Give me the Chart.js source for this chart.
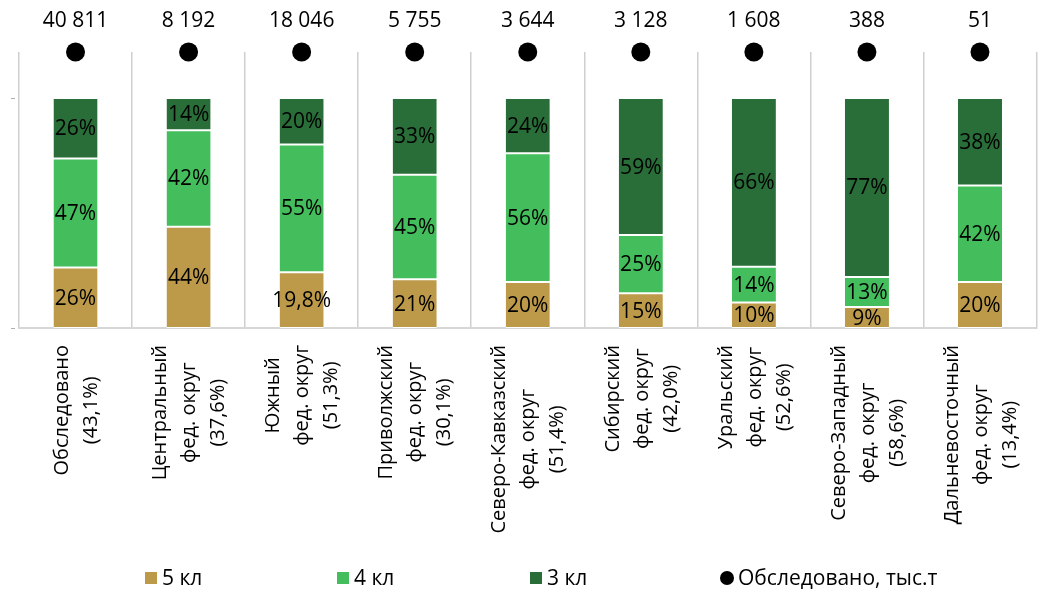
<!DOCTYPE html>
<html>
<head>
<meta charset="utf-8">
<script src="https://cdn.jsdelivr.net/npm/chart.js@4"></script>
<style>
  body { margin: 0; background: #fff; }
  #wrap { width: 1046px; height: 590px; }
</style>
</head>
<body>
<div id="wrap"><canvas id="js-gradeChart" width="1046" height="590"></canvas></div>
<script>
// regions (x categories), each label split into lines
var regions = [
  ['Обследовано', '(43,1%)'],
  ['Центральный', 'фед. округ', '(37,6%)'],
  ['Южный', 'фед. округ', '(51,3%)'],
  ['Приволжский', 'фед. округ', '(30,1%)'],
  ['Северо-Кавказский', 'фед. округ', '(51,4%)'],
  ['Сибирский', 'фед. округ', '(42,0%)'],
  ['Уральский', 'фед. округ', '(52,6%)'],
  ['Северо-Западный', 'фед. округ', '(58,6%)'],
  ['Дальневосточный', 'фед. округ', '(13,4%)']
];
// class shares, %
var grade5 = [26, 44, 24, 21, 20, 15, 10, 9, 20];
var grade4 = [47, 42, 55, 45, 56, 25, 14, 13, 42];
var grade3 = [26, 14, 20, 33, 24, 59, 66, 77, 38];
// printed labels (south district label differs from bar height in the source)
var grade5Text = ['26%', '44%', '19,8%', '21%', '20%', '15%', '10%', '9%', '20%'];
// surveyed, thousand tonnes
var surveyed = [40811, 8192, 18046, 5755, 3644, 3128, 1608, 388, 51];

var colors = { g5: '#bc9a4a', g4: '#44bd5c', g3: '#296e38' };
var FONT = '"Open Sans", "Noto Sans", sans-serif';
var TOP = 120; // y scale max, dots sit on it

document.addEventListener('DOMContentLoaded', function(){

  var totals = grade5.map(function(v, i){ return v + grade4[i] + grade3[i]; });
  function pct(arr){ return arr.map(function(v, i){ return v / totals[i] * 100; }); }
  function fmt(n){ return String(n).replace(/\B(?=(\d{3})+(?!\d))/g, ' '); }

  var segTexts = [
    grade5Text,
    grade4.map(function(v){ return v + '%'; }),
    grade3.map(function(v){ return v + '%'; })
  ];

  var overlay = {
    id: 'overlay',
    afterDatasetsDraw: function(chart){
      var ctx = chart.ctx;
      var xs = chart.scales.x, ys = chart.scales.y;
      ctx.save();
      ctx.fillStyle = '#000';
      ctx.font = '21px ' + FONT;
      ctx.textAlign = 'center';
      ctx.textBaseline = 'middle';

      // segment labels
      segTexts.forEach(function(texts, di){
        chart.getDatasetMeta(di).data.forEach(function(bar, i){
          ctx.fillText(texts[i], bar.x, (bar.y + bar.base) / 2 + 1);
        });
      });

      // surveyed values above dots
      chart.getDatasetMeta(3).data.forEach(function(pt, i){
        ctx.fillText(fmt(surveyed[i]), pt.x, pt.y - 31);
      });

      // rotated category labels, lines centered
      ctx.font = '20px ' + FONT;
      var lineH = 29;
      regions.forEach(function(lines, i){
        var cx = xs.getPixelForValue(i);
        var maxW = 0;
        lines.forEach(function(l){ maxW = Math.max(maxW, ctx.measureText(l).width); });
        ctx.save();
        ctx.translate(cx + 1, chart.chartArea.bottom + 17 + maxW / 2);
        ctx.rotate(-Math.PI / 2);
        lines.forEach(function(l, k){
          ctx.fillText(l, 0, (k - (lines.length - 1) / 2) * lineH);
        });
        ctx.restore();
      });

      // tiny y tick marks
      ctx.fillStyle = '#b0b0b0';
      [0, 100].forEach(function(v){
        var y = ys.getPixelForValue(v);
        ctx.fillRect(chart.chartArea.left - 8, Math.round(y), 4, 1);
      });

      // legend
      var ly = 578;
      ctx.font = '21px ' + FONT;
      ctx.textAlign = 'left';
      ctx.fillStyle = colors.g5; ctx.fillRect(145, ly - 6, 12, 12);
      ctx.fillStyle = colors.g4; ctx.fillRect(337, ly - 6, 12, 12);
      ctx.fillStyle = colors.g3; ctx.fillRect(530, ly - 6, 12, 12);
      ctx.fillStyle = '#000';
      ctx.beginPath(); ctx.arc(727, ly, 7, 0, Math.PI * 2); ctx.fill();
      ctx.fillText('5 кл', 162, ly + 1);
      ctx.fillText('4 кл', 354, ly + 1);
      ctx.fillText('3 кл', 547, ly + 1);
      ctx.fillText('Обследовано, тыс.т', 738, ly + 1);
      ctx.restore();
    }
  };

  var barBorder = { top: 1, bottom: 1, left: 0, right: 0 };

  new Chart(document.getElementById('js-gradeChart'), {
    type: 'bar',
    data: {
      labels: regions.map(function(r){ return r.join(' '); }),
      datasets: [{
        label: '5 кл',
        data: pct(grade5),
        backgroundColor: colors.g5,
        borderColor: '#ffffff',
        borderWidth: barBorder,
        borderSkipped: false,
        stack: 'grades'
      }, {
        label: '4 кл',
        data: pct(grade4),
        backgroundColor: colors.g4,
        borderColor: '#ffffff',
        borderWidth: barBorder,
        borderSkipped: false,
        stack: 'grades'
      }, {
        label: '3 кл',
        data: pct(grade3),
        backgroundColor: colors.g3,
        borderColor: '#ffffff',
        borderWidth: barBorder,
        borderSkipped: false,
        stack: 'grades'
      }, {
        type: 'line',
        label: 'Обследовано, тыс.т',
        data: surveyed.map(function(){ return TOP; }),
        showLine: false,
        pointRadius: 9.5,
        pointBackgroundColor: '#000',
        pointBorderWidth: 0,
        clip: false,
        stack: 'dots'
      }]
    },
    options: {
      responsive: false,
      animation: false,
      layout: { padding: { left: 19, right: 4, top: 52, bottom: 262 } },
      datasets: { bar: { barPercentage: 0.39, categoryPercentage: 1 } },
      plugins: { legend: { display: false }, tooltip: { enabled: false } },
      scales: {
        x: {
          stacked: true,
          offset: true,
          grid: { offset: true, color: '#cfcfcf', lineWidth: 1.5, drawTicks: false },
          border: { color: '#d6d6d6', width: 2 },
          ticks: { display: false }
        },
        y: {
          stacked: true,
          display: false,
          min: 0,
          max: TOP
        }
      }
    },
    plugins: [overlay]
  });
});
</script>
</body>
</html>
